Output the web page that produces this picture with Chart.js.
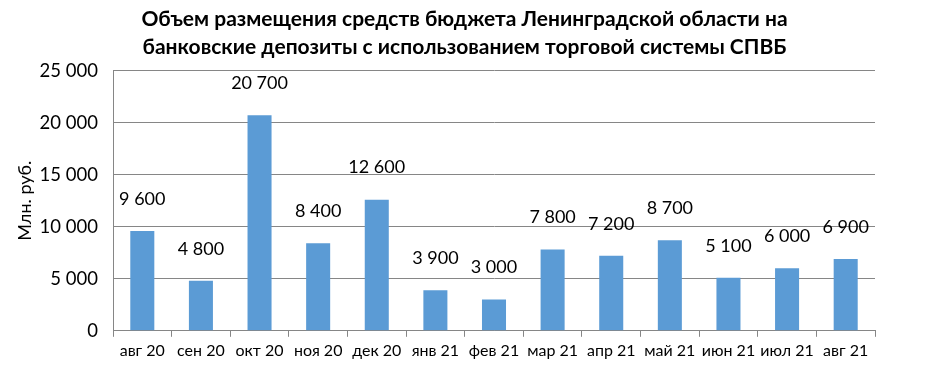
<!DOCTYPE html>
<html>
<head>
<meta charset="utf-8">
<script src="https://cdn.jsdelivr.net/npm/chart.js@4"></script>
<style>
  html, body { margin: 0; padding: 0; background: #fff; }
  #wrap { width: 930px; height: 373px; }
</style>
</head>
<body>
<div id="wrap"><canvas id="depositsChart" width="930" height="373"></canvas></div>
<script>
const labels = ["авг 20", "сен 20", "окт 20", "ноя 20", "дек 20", "янв 21", "фев 21", "мар 21", "апр 21", "май 21", "июн 21", "июл 21", "авг 21"];
const values = [9600, 4800, 20700, 8400, 12600, 3900, 3000, 7800, 7200, 8700, 5100, 6000, 6900];
const titleLines = ["Объем размещения средств бюджета Ленинградской области на", "банковские депозиты с использованием торговой системы СПВБ"];

function fmt(v) {
  return String(v).replace(/\B(?=(\d{3})+(?!\d))/g, " ");
}

const valueLabels = {
  id: "valueLabels",
  afterDatasetsDraw(chart) {
    const ctx = chart.ctx;
    const meta = chart.getDatasetMeta(0);
    ctx.save();
    ctx.font = "18px Lato";
    ctx.fillStyle = "#000";
    ctx.textAlign = "center";
    ctx.textBaseline = "middle";
    meta.data.forEach((bar, i) => {
      ctx.fillText(fmt(values[i]), bar.x, bar.y - 32);
    });
    ctx.restore();
  }
};

new Chart(document.getElementById("depositsChart"), {
  type: "bar",
  data: {
    labels: labels,
    datasets: [{
      data: values,
      backgroundColor: "#5B9BD5",
      barPercentage: 0.41,
      categoryPercentage: 1
    }]
  },
  options: {
    responsive: false,
    animation: false,
    layout: { padding: { left: 14, right: 15, top: 0, bottom: 9 } },
    plugins: {
      legend: { display: false },
      tooltip: { enabled: false },
      title: {
        display: true,
        text: titleLines,
        color: "#000",
        font: { family: "Lato", size: 21, weight: "bold", lineHeight: 1.3 },
        padding: { top: 6, bottom: 10 }
      }
    },
    scales: {
      x: {
        grid: { offset: true, drawOnChartArea: false, color: "#868686", tickLength: 6 },
        border: { color: "#868686" },
        ticks: { color: "#000", font: { family: "Lato", size: 16 }, maxRotation: 0, autoSkip: false, padding: 4 }
      },
      y: {
        min: 0,
        max: 25000,
        afterFit(scale) { scale.width = 99; },
        ticks: { stepSize: 5000, color: "#000", font: { family: "Lato", size: 18.5 }, padding: 15, callback: v => fmt(v) },
        grid: { color: "#868686", drawTicks: false },
        border: { color: "#868686" },
        title: { display: true, text: "Млн. руб.", color: "#000", font: { family: "Lato", size: 18 }, padding: 0 }
      },
      spacer: {
        position: "right",
        display: true,
        afterFit(scale) { scale.width = 40; },
        ticks: { display: false },
        grid: { display: false },
        border: { display: false }
      }
    }
  },
  plugins: [valueLabels]
});
</script>
</body>
</html>
